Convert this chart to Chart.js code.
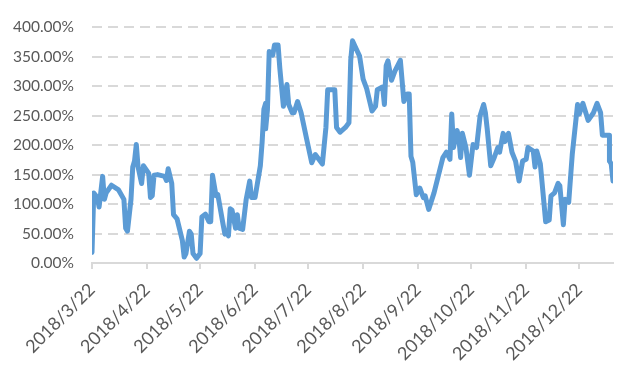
<!DOCTYPE html>
<html>
<head>
<meta charset="utf-8">
<script src="https://cdn.jsdelivr.net/npm/chart.js@4"></script>
<style>
  html, body { margin: 0; padding: 0; background: #fff; }
  #wrap { width: 627px; height: 372px; }
</style>
</head>
<body>
<div id="wrap"><canvas id="chart"></canvas></div>
<script>
// days counted from 2018/3/22
const startDate = [2018, 2, 22];
const days = [
  0, 1, 3, 4, 6, 7, 8, 11, 15, 18, 19, 20, 22, 23, 24, 25, 26, 28, 29, 32,
  33, 34, 35, 37, 41, 42, 43, 45, 46, 48, 51, 52, 53, 55, 56, 57, 59, 61, 62, 64,
  66, 67, 68, 70, 71, 74, 75, 76, 77, 78, 79, 81, 82, 83, 85, 87, 89, 90, 92, 95,
  96, 97, 98, 98, 99, 100, 102, 103, 105, 106, 108, 110, 111, 113, 114, 116, 118, 121, 124, 126,
  130, 132, 133, 137, 138, 140, 143, 145, 146, 147, 149, 151, 153, 155, 158, 160, 161, 164, 165, 166,
  167, 169, 171, 174, 176, 178, 179, 180, 181, 183, 185, 187, 188, 190, 193, 198, 200, 202, 203, 204,
  206, 207, 208, 209, 211, 213, 215, 217, 219, 221, 222, 223, 225, 227, 229, 230, 232, 233, 235, 237,
  239, 241, 243, 245, 246, 249, 250, 251, 253, 255, 256, 258, 259, 261, 263, 264, 266, 267, 269, 271,
  274, 275, 277, 280, 283, 285, 287, 288, 290, 292, 292, 293, 294
];
const values = [
  18, 119, 111, 95, 147, 108, 119, 132, 124, 108, 59, 54, 108, 163, 173, 201, 163, 135, 165, 152,
  111, 114, 149, 150, 147, 140, 160, 135, 82, 75, 38, 10, 16, 54, 49, 16, 8, 16, 78, 83,
  70, 70, 149, 114, 116, 65, 49, 54, 46, 92, 90, 59, 82, 59, 57, 108, 139, 111, 111, 165,
  205, 261, 271, 228, 260, 359, 353, 370, 370, 330, 266, 303, 269, 255, 255, 274, 255, 212, 170, 184,
  168, 230, 294, 294, 230, 222, 230, 238, 344, 377, 364, 351, 312, 296, 258, 266, 294, 299, 269, 335,
  343, 310, 326, 344, 274, 287, 287, 181, 171, 116, 127, 111, 114, 91, 119, 179, 188, 176, 253, 196,
  225, 212, 179, 220, 196, 149, 201, 196, 250, 269, 255, 228, 165, 179, 196, 188, 220, 206, 220, 188,
  173, 139, 173, 176, 196, 190, 163, 190, 168, 103, 70, 73, 114, 119, 135, 131, 65, 108, 103, 184,
  269, 253, 271, 242, 255, 271, 255, 217, 217, 217, 173, 168, 139
];
// x tick positions: the 22nd of each month
const tickDays = [0, 31, 61, 92, 122, 153, 184, 214, 245, 275];
const yTicks = [0, 50, 100, 150, 200, 250, 300, 350, 400];

function dayLabel(d) {
  const dt = new Date(startDate[0], startDate[1], startDate[2] + d);
  return `${dt.getFullYear()}/${dt.getMonth() + 1}/${dt.getDate()}`;
}

const points = days.map((d, i) => ({ x: d, y: values[i] }));

new Chart(document.getElementById('chart'), {
  type: 'line',
  data: {
    datasets: [{
      data: points,
      borderColor: '#5b9bd5',
      borderWidth: 5,
      pointRadius: 0,
      tension: 0,
      borderJoinStyle: 'round',
      borderCapStyle: 'round',
      fill: false
    }]
  },
  options: {
    responsive: true,
    maintainAspectRatio: false,
    animation: false,
    layout: { padding: { top: 18, right: 14, left: 0, bottom: 0 } },
    plugins: { legend: { display: false }, tooltip: { enabled: false } },
    scales: {
      x: {
        type: 'linear',
        min: 0,
        max: 294,
        afterBuildTicks: (scale) => { scale.ticks = tickDays.map(v => ({ value: v })); },
        afterFit: (scale) => { scale.height = 109; },
        border: { display: true, color: '#d9d9d9', width: 2 },
        grid: { drawOnChartArea: false, drawTicks: true, tickLength: 6, color: '#d9d9d9', lineWidth: 2 },
        ticks: {
          autoSkip: false,
          minRotation: 45,
          maxRotation: 45,
          padding: 10,
          color: '#595959',
          font: { family: 'Lato', size: 18 },
          callback: (v) => dayLabel(v)
        }
      },
      y: {
        min: 0,
        max: 400,
        afterBuildTicks: (scale) => { scale.ticks = yTicks.map(v => ({ value: v })); },
        afterFit: (scale) => { scale.width = 92; },
        border: { display: false, dash: [10, 6] },
        grid: {
          drawTicks: false,
          color: (ctx) => ctx.tick && ctx.tick.value === 0 ? 'rgba(0,0,0,0)' : '#d9d9d9',
          lineWidth: 2
        },
        ticks: {
          padding: 18,
          color: '#595959',
          font: { family: 'Lato', size: 15.5 },
          callback: (v) => v.toFixed(2) + '%'
        }
      }
    }
  }
});
</script>
</body>
</html>
